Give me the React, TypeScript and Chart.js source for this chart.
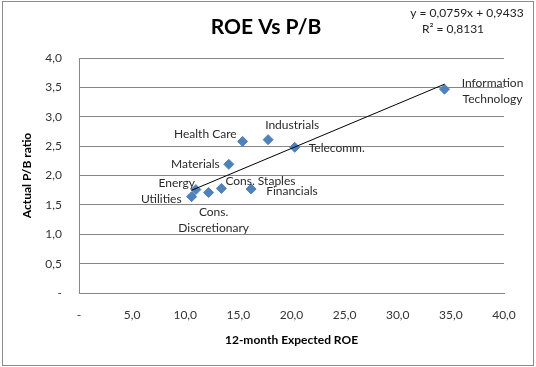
import React, { useEffect, useRef } from "react";
import { Chart, registerables } from "chart.js";

Chart.register(...registerables);

// ---- Data ----
const sectors = [
  "Information Technology",
  "Industrials",
  "Health Care",
  "Telecomm.",
  "Materials",
  "Financials",
  "Cons. Staples",
  "Cons. Discretionary",
  "Energy",
  "Utilities",
];
const expectedROE = [34.4, 17.8, 15.4, 20.3, 14.1, 16.2, 13.4, 12.2, 11.0, 10.6];
const actualPB = [3.47, 2.61, 2.58, 2.48, 2.19, 1.77, 1.78, 1.71, 1.76, 1.64];

const xTickLabels = ["-", "5,0", "10,0", "15,0", "20,0", "25,0", "30,0", "35,0", "40,0"];
const yTickLabels = ["-", "0,5", "1,0", "1,5", "2,0", "2,5", "3,0", "3,5", "4,0"];

const trendSlope = 0.0759;
const trendIntercept = 0.9433;
const rSquared = 0.8131;

const chartTitle = "ROE Vs P/B";
const xTitle = "12-month Expected ROE";
const yTitle = "Actual P/B ratio";

// ---- Label layout (styling only) ----
const labelLines: Record<string, string[]> = {
  "Information Technology": ["Information", "Technology"],
  "Cons. Discretionary": ["Cons.", "Discretionary"],
};
const labelPlacement: Record<string, { align: CanvasTextAlign; dx: number; dy: number }> = {
  "Information Technology": { align: "center", dx: 48, dy: -6 },
  Industrials: { align: "left", dx: -3, dy: -15 },
  "Health Care": { align: "right", dx: -6, dy: -7 },
  "Telecomm.": { align: "left", dx: 14, dy: 1 },
  Materials: { align: "right", dx: -9, dy: 0 },
  Financials: { align: "left", dx: 15, dy: 2 },
  "Cons. Staples": { align: "left", dx: 4, dy: -7 },
  "Cons. Discretionary": { align: "center", dx: 5, dy: 20 },
  Energy: { align: "right", dx: -1, dy: -6 },
  Utilities: { align: "right", dx: -10, dy: 2 },
};

const FONT = "Lato, 'Open Sans', sans-serif";
const fmt = (v: number) => v.toFixed(4).replace(".", ",");

const annotationsPlugin = {
  id: "excelAnnotations",
  beforeDraw(chart: any) {
    const ctx = chart.ctx;
    ctx.save();
    ctx.fillStyle = "#ffffff";
    ctx.fillRect(0, 0, chart.width, chart.height);
    ctx.restore();
  },
  afterDraw(chart: any) {
    const ctx = chart.ctx as CanvasRenderingContext2D;
    const xs = chart.scales.x;
    const ys = chart.scales.y;
    ctx.save();
    // outer border
    ctx.strokeStyle = "#8c8c8c";
    ctx.lineWidth = 1;
    ctx.strokeRect(2.5, 1.5, 531, 364);

    // title
    ctx.fillStyle = "#000";
    ctx.font = `bold 21px ${FONT}`;
    ctx.textAlign = "center";
    ctx.textBaseline = "middle";
    ctx.fillText(chartTitle, 266, 27);

    // trendline equation
    ctx.font = `12px ${FONT}`;
    ctx.fillStyle = "#222";
    ctx.fillText(`y = ${fmt(trendSlope)}x + ${fmt(trendIntercept)}`, 467, 13);
    ctx.fillText(`R² = ${fmt(rSquared)}`, 453, 29);

    // point labels
    ctx.font = `12px ${FONT}`;
    ctx.fillStyle = "#2a2a2a";
    sectors.forEach((name, i) => {
      const px = xs.getPixelForValue(expectedROE[i]);
      const py = ys.getPixelForValue(actualPB[i]);
      const p = labelPlacement[name] || { align: "left", dx: 8, dy: 0 };
      const lines = labelLines[name] || [name];
      ctx.textAlign = p.align;
      lines.forEach((ln, k) => {
        ctx.fillText(ln, px + p.dx, py + p.dy + k * 15.5);
      });
    });
    ctx.restore();
  },
};

export default function App() {
  const canvasRef = useRef<HTMLCanvasElement | null>(null);

  useEffect(() => {
    if (!canvasRef.current) return;
    const minX = Math.min(...expectedROE);
    const maxX = Math.max(...expectedROE);
    const chart = new Chart(canvasRef.current, {
      type: "scatter",
      data: {
        datasets: [
          {
            label: "Trend",
            data: [
              { x: minX, y: trendSlope * minX + trendIntercept },
              { x: maxX, y: trendSlope * maxX + trendIntercept },
            ],
            showLine: true,
            borderColor: "#000",
            borderWidth: 1,
            pointRadius: 0,
            order: 0,
          },
          {
            label: "Sectors",
            data: expectedROE.map((x, i) => ({ x, y: actualPB[i] })),
            pointStyle: "rectRot",
            pointRadius: 5,
            backgroundColor: "#4F81BD",
            borderColor: "#4F81BD",
            borderWidth: 1,
            order: 1,
          },
        ],
      },
      options: {
        responsive: true,
        maintainAspectRatio: false,
        animation: false,
        layout: { padding: { left: 0, top: 58, right: 32, bottom: 20 } },
        plugins: {
          legend: { display: false },
          tooltip: { enabled: false },
          title: { display: false },
        },
        scales: {
          x: {
            type: "linear",
            min: 0,
            max: 40,
            afterFit: (s: any) => {
              s.height = 54;
            },
            grid: { display: false, drawTicks: false },
            border: { display: true, color: "#868686", width: 1 },
            ticks: {
              stepSize: 5,
              padding: 15,
              color: "#333",
              font: { family: FONT, size: 12 },
              callback: (_v: any, i: number) => xTickLabels[i],
            },
            title: {
              display: true,
              text: xTitle,
              color: "#000",
              font: { family: FONT, size: 12, weight: "bold" },
              padding: { top: 0, bottom: 0 },
            },
          },
          y: {
            type: "linear",
            min: 0,
            max: 4,
            afterFit: (s: any) => {
              s.width = 79;
            },
            grid: { color: "#868686", drawTicks: false, lineWidth: 1 },
            border: { display: true, color: "#868686", width: 1 },
            ticks: {
              stepSize: 0.5,
              padding: 17,
              color: "#333",
              font: { family: FONT, size: 12 },
              callback: (_v: any, i: number) => yTickLabels[i],
            },
            title: {
              display: true,
              text: yTitle,
              color: "#000",
              font: { family: FONT, size: 12, weight: "bold" },
              padding: { top: 20, bottom: 0 },
            },
          },
        },
      },
      plugins: [annotationsPlugin],
    } as any);
    return () => chart.destroy();
  }, []);

  return (
    <div style={{ position: "absolute", left: 0, top: 0, width: 536, height: 367, background: "#fff" }}>
      <canvas ref={canvasRef} />
    </div>
  );
}
